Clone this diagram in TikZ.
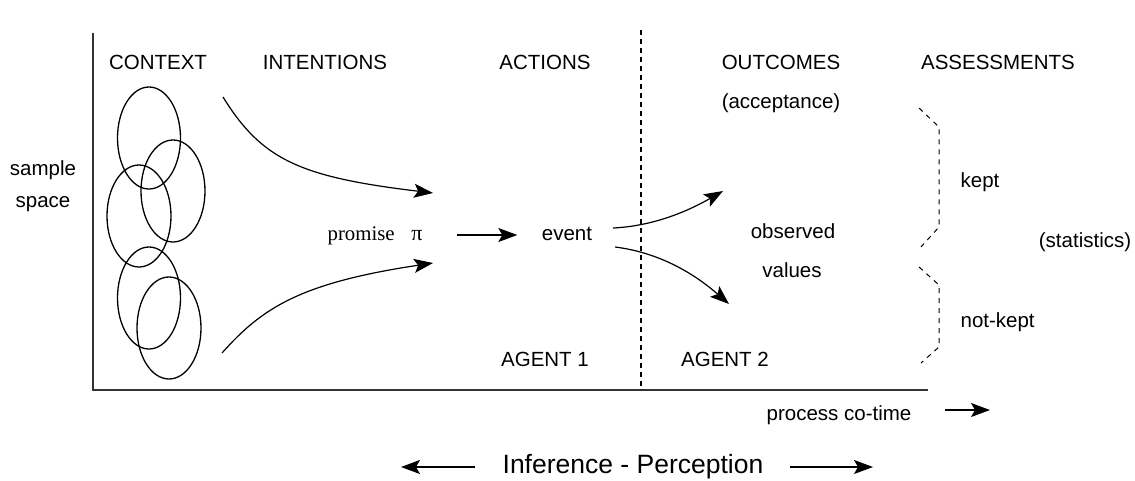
\documentclass[tikz,border=0pt]{standalone}
\usepackage{fontspec}
\setmainfont{Liberation Sans}
\newfontfamily\seriffont{Liberation Serif}
\usetikzlibrary{arrows.meta}
\begin{document}
\begin{tikzpicture}[x=1pt,y=-1pt,line width=1.2pt,
  lbl/.style={font=\fontsize{20.5}{24}\selectfont,anchor=base,inner sep=0pt},
  big/.style={font=\fontsize{26.5}{30}\selectfont,anchor=base,inner sep=0pt},
  arr/.style={-{Stealth[length=19pt,width=14pt,inset=4pt]}},
  ctx/.style={line width=1.3pt},
  brace/.style={line width=1pt,dash pattern=on 5pt off 5pt},
  divider/.style={line width=1.1pt,dash pattern=on 5pt off 4pt}]
\useasboundingbox (0,0) rectangle (1135,480);

% axes
\coordinate (ytop) at (93,33);
\coordinate (origin) at (93,390);
\coordinate (xend) at (928,390);
\draw[line width=1.6pt,black!80] (ytop) -- (origin) -- (xend);

% divider
\coordinate (dtop) at (641,30);
\coordinate (dbot) at (641,390);
\draw[divider] (dtop) -- (dbot);

% headers
\node[lbl] (hctx) at (158,69) {CONTEXT};
\node[lbl] (hint) at (325,69) {INTENTIONS};
\node[lbl] (hact) at (545,69) {ACTIONS};
\node[lbl] (hout) at (781,69) {OUTCOMES};
\node[lbl] (hass) at (998,69) {ASSESSMENTS};
\node[lbl] (acc) at (781,108) {(acceptance)};

\node[lbl] (sample) at (43,175) {sample};
\node[lbl] (space) at (43,207) {space};

% context ellipses
\draw[ctx] (149,138) ellipse [x radius=31.5,y radius=51];
\draw[ctx] (173,191) ellipse [x radius=32,y radius=51];
\draw[ctx] (139,216) ellipse [x radius=32,y radius=51];
\draw[ctx] (149,298) ellipse [x radius=31.5,y radius=51];
\draw[ctx] (169,328) ellipse [x radius=32,y radius=51];

% promise and event
\node[lbl,font=\fontsize{20.8}{24}\seriffont] (prom) at (375,240) {promise\hspace{0.8em}{\fontsize{22}{24}\selectfont π}};
\node[lbl] (event) at (567,240) {event};
\draw[arr] ([xshift=34pt,yshift=5pt]prom.base east) -- ([xshift=-24pt,yshift=5pt]event.base west);

% intention curves
\coordinate (i1) at (223,97);
\coordinate (i1t) at (433,193);
\coordinate (i2) at (222,353);
\coordinate (i2t) at (433,263);
\draw[arr] (i1) .. controls (262,160) and (300,177) .. (i1t);
\draw[arr] (i2) .. controls (262,308) and (300,283) .. (i2t);

% outcome curves
\coordinate (e1) at (613,228);
\coordinate (e1t) at (723,191);
\coordinate (e2) at (615,247);
\coordinate (e2t) at (729,304);
\draw[arr] (e1) .. controls (655,226) and (690,210) .. (e1t);
\draw[arr] (e2) .. controls (655,252) and (690,270) .. (e2t);

\node[lbl] (obs) at (793,238) {observed};
\node[lbl] (val) at (792,277) {values};

% assessment braces
\coordinate (b1a) at (919,108);
\coordinate (b1b) at (939,127);
\coordinate (b1c) at (939,227);
\coordinate (b1d) at (921,247);
\draw[brace] (b1a) -- (b1b) -- (b1c) -- (b1d);
\coordinate (b2a) at (919,267);
\coordinate (b2b) at (939,285);
\coordinate (b2c) at (939,347);
\coordinate (b2d) at (921,363);
\draw[brace] (b2a) -- (b2b) -- (b2c) -- (b2d);

\node[lbl,anchor=base west] (kept) at (960,187) {kept};
\node[lbl,anchor=base west] (nkept) at (960,327) {not-kept};
\node[lbl] (stat) at (1085,247) {(statistics)};

% agents
\node[lbl] (ag1) at (545,366) {AGENT 1};
\node[lbl] (ag2) at (725,366) {AGENT 2};

% process co-time
\node[lbl] (pct) at (839,420) {process co-time};
\coordinate (pa) at (945,410);
\coordinate (pb) at (990,410);
\draw[arr] (pa) -- (pb);

% inference - perception
\node[big] (inf) at (633,473) {Inference - Perception};
\coordinate (la) at (475,467);
\coordinate (lb) at (401,467);
\coordinate (ra) at (790,467);
\coordinate (rb) at (873,467);
\draw[arr] (la) -- (lb);
\draw[arr] (ra) -- (rb);
\end{tikzpicture}
\end{document}
